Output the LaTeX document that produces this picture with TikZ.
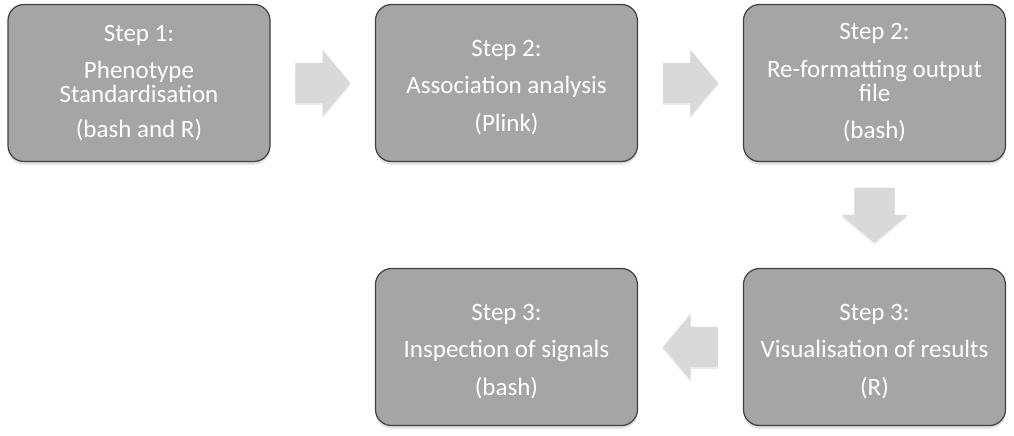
\documentclass[tikz,border=0pt]{standalone}
\usepackage{fontspec}
\setmainfont{Carlito}
\usetikzlibrary{shapes.arrows,shadows,calc}

\definecolor{boxfill}{HTML}{A5A5A5}
\definecolor{boxline}{HTML}{404040}
\definecolor{arrowfill}{HTML}{D9D9D9}
\newcommand{\stepstrut}{\rule{0pt}{25pt}}

\begin{document}
\begin{tikzpicture}[
    x=1pt, y=-1pt,
    stepbox/.style={rectangle, rounded corners=16pt, draw=boxline, line width=1.2pt,
        fill=boxfill, text=white, minimum width=262pt, minimum height=157pt,
        inner sep=0pt, align=center, font=\fontsize{25}{37.5}\selectfont,
        drop shadow={shadow xshift=0pt, shadow yshift=-3pt, opacity=.25}},
    blockarrow/.style={single arrow, draw=none, fill=arrowfill, inner sep=0pt,
        minimum height=55pt, single arrow head extend=13pt,
        single arrow tip angle=100, anchor=tail,
        drop shadow={shadow xshift=0pt, shadow yshift=-2pt, opacity=.15}}
]
    \useasboundingbox (0,0) rectangle (1014,436);
    % the five steps
    \node[stepbox] (s1) at (139, 83) {Step 1:\\Phenotype\\[-13.5pt]Standardisation\\[-2.5pt](bash and R)};
    \node[stepbox] (s2) at (506.5, 83) {\stepstrut Step 2:\\Association analysis\\(Plink)};
    \node[stepbox] (s3) at (874.5, 83) {Step 2:\\Re-formatting output\\[-13.5pt]file\\(bash)};
    \node[stepbox] (s4) at (874.5, 347) {\stepstrut Step 3:\\Visualisation of results\\(R)};
    \node[stepbox] (s5) at (506.5, 347) {\stepstrut Step 3:\\Inspection of signals\\(bash)};
    % block arrows between them (placed by their tails)
    \node[blockarrow] (a1) at ($(s1.east)!0.5!(s2.west) + (-27.5,0)$) {\rule{0pt}{40pt}};
    \node[blockarrow] (a2) at ($(s2.east)!0.5!(s3.west) + (-27.5,0)$) {\rule{0pt}{40pt}};
    \node[blockarrow, rotate=270] (a3) at ($(s3.south)!0.5!(s4.north) + (0,-27.5)$) {\rule{0pt}{40pt}};
    \node[blockarrow, rotate=180] (a4) at ($(s4.west)!0.5!(s5.east) + (27.5,0)$) {\rule{0pt}{40pt}};
\end{tikzpicture}
\end{document}
